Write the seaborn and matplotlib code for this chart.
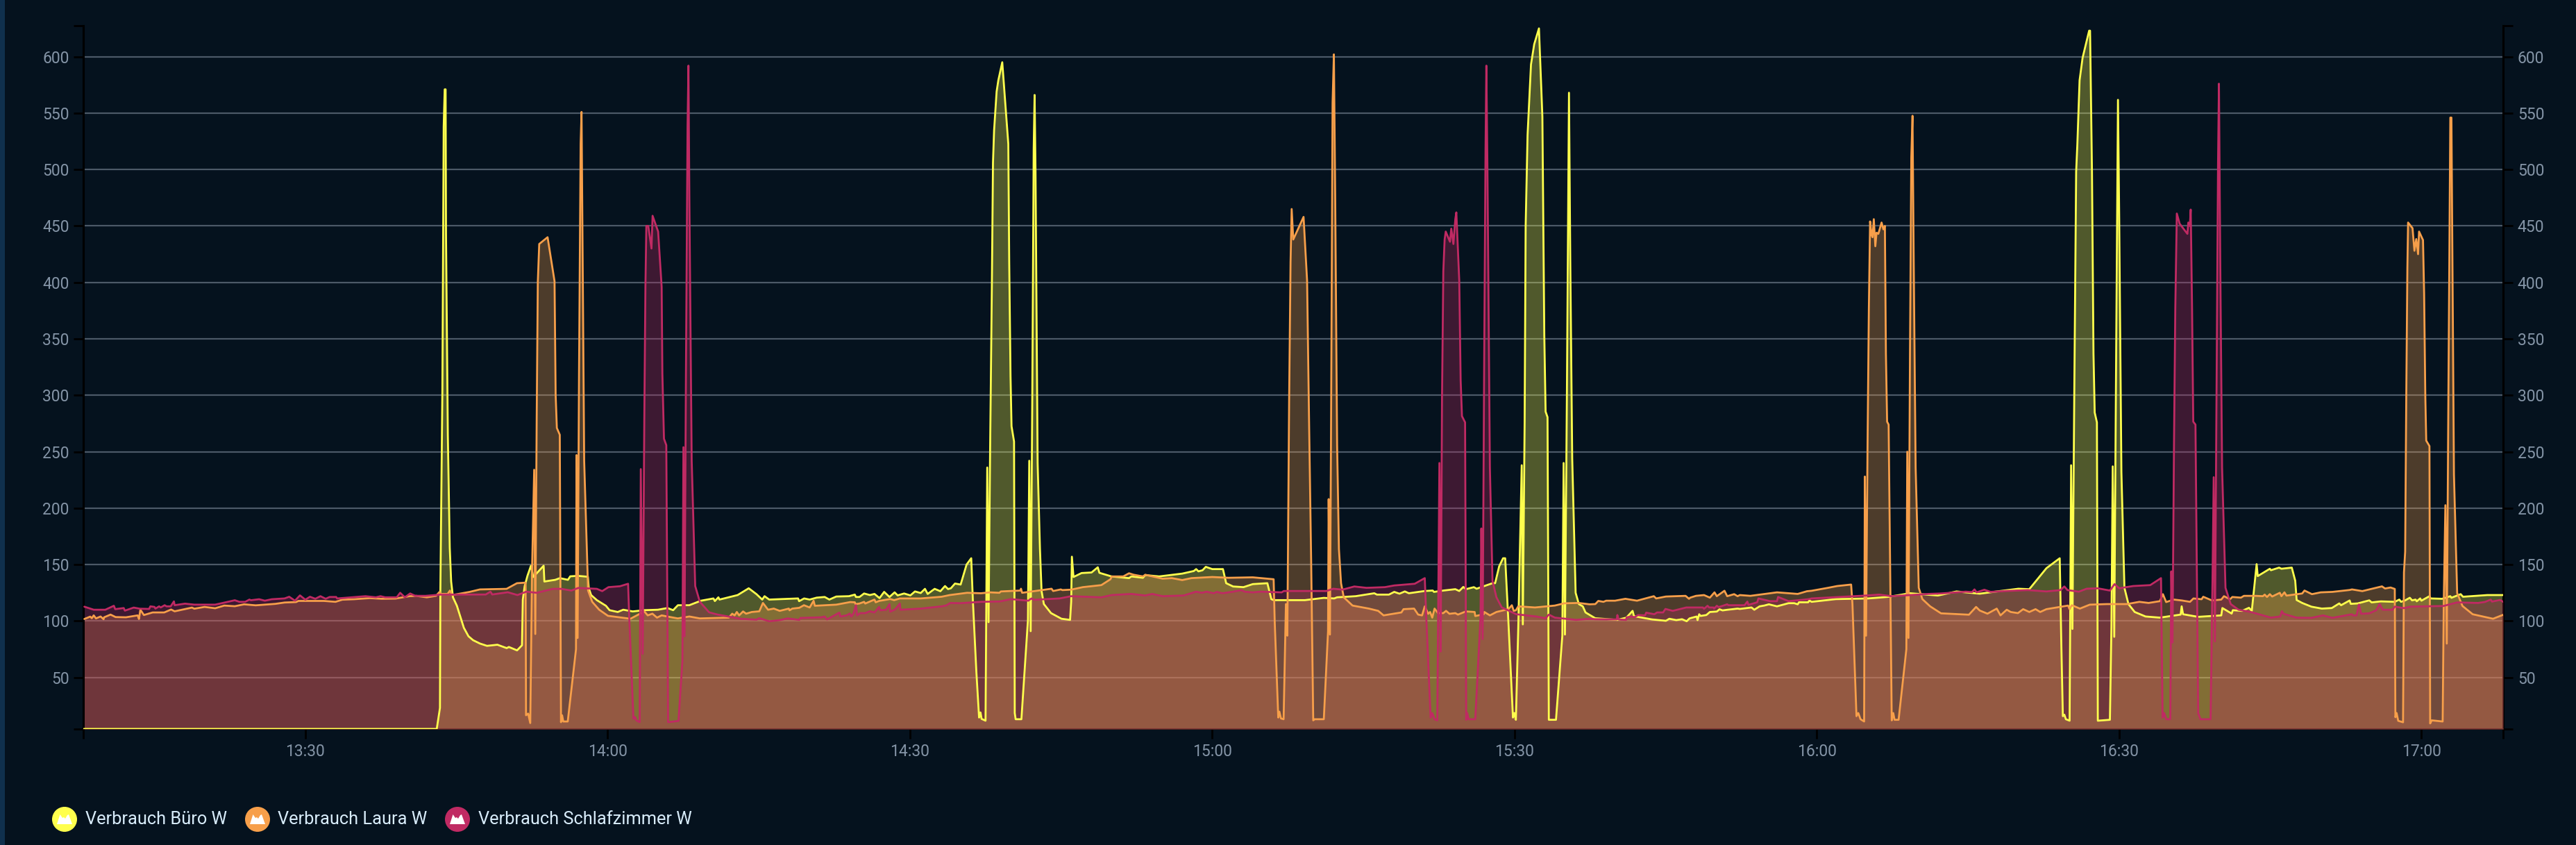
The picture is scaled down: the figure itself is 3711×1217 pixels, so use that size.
import matplotlib
matplotlib.use('Agg')
import matplotlib.pyplot as plt
from matplotlib.patches import Circle, Polygon, Rectangle
import pandas as pd
import seaborn as sns

# Zeit in Minuten nach 13:00, Leistung in Watt
buero_min = [8.0, 43.04, 43.36, 43.4, 43.6, 43.73, 43.83, 43.92, 43.96, 44.14, 44.33, 44.47, 44.65, 45.04, 45.38, 45.73, 46.19, 46.65, 47.34, 48.03, 49.06, 49.98, 50.2, 51.01, 51.5, 51.58, 51.77, 52.04, 52.39, 52.62, 53.65, 53.72, 54.8, 55.26, 56.06, 56.29, 57.07, 58.04, 58.13, 58.36, 58.93, 59.83, 60.19, 61.0, 61.55, 62.49, 63.62, 64.99, 65.94, 66.5, 66.97, 68.1, 69.26, 70.5, 70.64, 70.99, 71.1, 72.9, 74.0,
             74.77, 75.34, 75.57, 76.03, 78.9, 79.0, 79.5, 80.05, 80.74, 81.54, 82.0, 82.69, 83.95, 84.53, 84.64, 84.99, 85.45, 86.02, 86.48, 86.98, 87.44, 87.97, 88.48, 88.78, 89.42, 90.04, 90.5, 91.07, 91.49, 91.76, 92.45, 93.02, 93.48, 93.78, 94.06, 94.47, 95.03,
             95.62, 96.08, 96.24, 96.59, 96.86, 97.0, 97.11, 97.5, 97.67, 97.8, 97.96, 98.13, 98.24, 98.35, 98.6, 98.77, 99.16, 99.46, 99.76, 99.85, 99.98, 100.08, 100.33, 100.4, 100.49, 101.06, 101.71, 101.84, 101.98, 102.14, 102.28, 102.37, 102.46, 102.67, 102.9, 103.06, 103.29, 104.0, 105.04, 105.89, 106.0, 106.07, 106.23, 107.03, 108.02, 108.64, 108.8, 110.0, 111.74, 111.97, 113.12, 113.35, 114.73, 117.02, 118.17, 118.4, 118.63, 119.04, 119.36, 120.0, 121.06, 121.38, 122.07, 123.1, 124.02, 125.47, 125.86, 126.09,
             129.2, 131.07, 132.1, 132.39, 134.23, 136.08, 136.34, 137.53, 138.06, 138.58, 139.11, 139.51, 141.09, 141.88, 142.0, 142.93, 144.12, 144.51, 144.91, 145.17, 145.96, 146.23, 147.81, 148.07, 148.47, 148.86, 149.07, 149.39, 149.84, 149.97, 150.13, 150.37, 150.71, 150.82, 151.0, 151.1, 151.29, 151.63, 151.95, 152.42, 152.76, 152.95, 153.08, 153.27, 153.4, 154.11, 154.74, 154.87, 155.0, 155.19, 155.4, 155.53, 155.72, 156.06, 156.38, 156.77, 157.04,
             158.0, 160.2, 161.1, 161.71, 161.85, 163.64, 165.02, 165.36, 166.05, 166.62, 167.08, 167.36, 168.07, 168.16, 168.32, 168.46, 169.03, 169.38, 170.07, 170.34, 170.64, 171.15, 172.13, 172.36, 173.51, 173.79, 174.32, 174.78, 175.24, 176.04, 177.19, 177.76, 178.1, 178.22, 179.14, 179.25, 179.48,
             181.87, 185.09, 187.09, 189.24, 192.01, 193.86, 194.78, 196.16, 197.86, 200.0, 201.08, 202.78, 204.1, 204.25, 204.41, 204.56, 204.71, 205.08, 205.23, 205.36, 205.54, 205.73, 205.85, 206.07, 206.37, 207.02, 207.11, 207.3, 207.45, 207.57, 207.79, 207.88, 209.08, 209.23, 209.36, 209.51, 209.7, 209.88, 210.0, 210.22, 210.52, 210.92, 211.54, 212.62, 214.04, 216.1, 216.2, 216.34, 217.83, 220.13, 220.24, 221.16, 221.28, 222.2, 222.88, 223.16, 223.64, 223.75, 224.95, 225.06, 225.87, 226.1, 227.13, 227.47, 227.61, 228.16, 229.08, 230.11, 231.1, 231.84, 232.02, 232.87, 232.98,
             233.67, 234.82, 235.05, 235.97, 237.35, 237.8, 237.97, 238.38, 238.84, 239.07, 239.41, 239.53, 239.87, 239.99, 240.79, 240.9, 242.05, 242.86, 242.97, 243.89, 244.12, 246.53, 248.1]
buero_w = [4.4, 4.4, 23, 127, 304, 538, 571, 571, 442, 265, 165, 135, 121, 113.5, 104, 94, 86.5, 83, 80, 78, 79, 76, 77, 74, 78.5, 119, 131, 140, 149, 139, 149, 135, 136.5, 138, 136.5, 139.6, 140, 139.2, 129, 123, 118.5, 113.5, 109.6, 108, 110, 108.5, 109.6, 110, 111.5, 109.6, 114, 114, 118, 120, 117.7, 121, 119, 123, 129,
           123.8, 119, 122, 119, 120, 117.6, 120, 119, 120.7, 121.3, 119, 121.7, 122, 123.4, 121.3, 121.3, 124.4, 123, 124, 120.3, 125.8, 121.3, 125.4, 122.7, 124.4, 122.7, 126.2, 124.8, 128.5, 124, 128.5, 126.4, 131, 128.3, 129, 133.2, 132.3,
           150, 155.6, 119, 55, 14.5, 19, 13.3, 11.7, 236, 99, 256, 397.6, 506, 534.7, 569, 579, 595, 559, 522.6, 418, 317, 272.6, 259, 18.5, 13, 13, 101, 242, 91, 297, 518.5, 566, 498, 240, 164, 126.6, 115, 107, 102, 101, 117, 157, 139, 142.5, 143, 147.6, 142.7, 139.5, 138, 139.5, 138.3, 140.7, 139.5, 142, 144.3, 146, 144, 145, 148, 146, 146, 133.5, 130.6, 130, 132.7, 133.5, 119.4, 118.5,
           118.5, 120.5, 120, 121, 122, 124.6, 123.4, 123.4, 125.8, 124.2, 126.2, 124.6, 126.6, 127, 125.8, 127, 128.2, 126.6, 130.2, 128.2, 130, 128.6, 133.5, 133.5, 148.4, 155.6, 155.6, 99, 14.5, 18.5, 12.5, 95, 238, 97, 276.6, 450, 530.6, 593, 611, 625, 546.8, 353, 285.5, 280.6, 12.5, 12.5, 87, 240, 88, 297, 568, 417.6, 244, 125, 115, 113, 107.6,
           102.5, 101, 103, 109, 104.3, 101.4, 100.2, 102, 100.8, 101.6, 99.8, 102.3, 104, 100.8, 106, 104.5, 105.3, 108, 108.4, 110.4, 109.4, 110, 111, 110.7, 112, 110, 113, 113.7, 114.8, 113, 115.8, 115.8, 114.8, 116.6, 116.6, 118.2, 117,
           119.4, 120, 121.4, 124.6, 122.6, 126.2, 125.4, 124.2, 126.2, 128.6, 128.2, 146.8, 155.6, 83, 15.7, 17, 13, 11.7, 238, 93, 297, 498, 522.6, 579, 599, 623, 623, 498, 337, 284.7, 276, 11.7, 12.5, 95, 237, 86, 337, 561.7, 458, 232, 129.4, 115, 108, 104, 103, 105.7, 113, 106, 103.7, 105, 111.5, 106.6, 109.6, 109, 111.7, 109, 150.4, 139.8, 146.3, 145, 147.3, 146.3, 147.3, 135.7, 118.6, 116, 112.7, 111, 111.5, 115.6, 114, 118.2, 115.2,
           115.6, 118.3, 116.5, 117.4, 117, 119, 117, 118.3, 120.6, 118.3, 119, 117.5, 120, 118, 122, 120, 119.7, 122, 120.6, 123.8, 121.5, 123, 123]

laura_min = [8.07, 8.65, 8.81, 9.0, 9.22, 9.68, 9.98, 10.03, 10.67, 11.17, 12.2, 13.36, 13.49, 13.63, 13.98, 14.85, 16.0, 16.68, 17.03, 18.75, 18.98, 20.0, 21.05, 21.96, 23.0, 23.92, 25.07, 27.02, 27.94, 29.08, 29.31, 31.84, 32.99, 33.67, 34.82, 36.43, 37.58, 38.96, 39.87, 40.33, 41.02, 42.05, 42.97, 43.32, 43.43, 44.12, 44.35, 44.58, 46.3, 47.33, 49.97, 51.0, 51.86, 51.9, 52.11, 52.32, 52.5, 52.71, 52.82, 52.96, 53.07, 53.21, 54.04, 54.73, 54.84, 54.96, 55.25, 55.37, 55.48, 55.6, 56.04, 56.86, 56.91, 57.02, 57.16, 57.32, 57.41, 57.51, 57.67, 57.9, 58.06, 58.47, 59.16, 60.03, 62.26, 63.64, 63.98, 64.44, 64.9, 65.36, 65.93, 66.96, 68.11, 69.15, 72.02, 72.36, 72.6, 72.82, 73.05, 73.44, 73.74, 74.31, 75.05, 75.41, 75.92, 76.49, 77.07, 77.98, 78.05, 78.33, 79.02, 79.48, 80.05, 80.44, 80.56, 82.69, 84.07, 84.53, 84.6, 84.99, 85.45, 85.56, 86.48, 86.6, 86.94, 88.04, 88.43, 89.0, 91.07, 93.14, 93.94, 95.67, 97.05, 97.96, 98.88, 99.02, 100.95, 101.02, 101.13, 104.05, 104.21, 104.97, 105.13, 106.0, 107.15, 108.99, 109.9, 110.02, 111.17, 111.74, 112.2, 113.12, 113.35, 115.07, 115.99, 117.02, 117.94, 120.0, 121.61, 124.02, 126.09, 126.2, 126.55, 126.66, 126.82, 127.08, 127.31, 127.45, 127.63, 127.77, 127.88, 128.04, 129.06, 129.41, 129.62, 129.81, 130.02, 130.15, 131.07, 131.49, 131.55, 131.68, 131.78, 131.94, 132.07, 132.2, 132.39, 132.57, 132.78, 133.05, 133.92, 135.55, 136.47, 137.0, 138.77, 138.98, 140.03, 140.43, 140.82, 141.09, 141.43, 141.62, 141.83, 142.06, 142.4, 142.93, 143.2, 143.54, 144.12, 144.38, 145.17, 146.04, 146.1, 146.94, 147.0, 147.55, 148.2, 149.39, 149.73, 149.92, 150.13, 150.37, 152.03, 154.0, 154.93, 156.38, 157.44, 158.01, 158.31, 158.82, 159.09, 159.97, 161.0, 162.15, 163.82, 164.05, 165.02, 166.97, 167.31, 167.43, 168.0, 168.8, 169.38, 169.84, 170.07, 170.83, 171.1, 171.79, 172.13, 172.36, 173.4, 176.04, 178.1, 179.02, 179.48, 181.1, 182.02, 183.4, 183.53, 183.77, 183.93, 184.11, 184.33, 184.69, 184.76, 184.88, 185.03, 185.16, 185.28, 185.43, 185.52, 185.65, 185.8, 185.92, 186.1, 186.42, 186.6, 186.75, 186.85, 186.97, 187.12, 187.28, 187.43, 187.58, 187.71, 188.11, 188.88, 188.97, 189.09, 189.24, 189.37, 189.49, 189.61, 189.8, 190.11, 190.47, 191.24, 192.32, 195.09, 195.8, 196.16, 196.93, 197.85, 198.22, 198.84, 199.24, 199.95, 200.47, 201.08, 201.7, 202.16, 202.78, 204.93, 205.08, 205.3, 206.1, 207.08, 208.77, 210.77, 212.0, 212.92, 214.04, 214.34, 214.66, 215.42, 216.22, 217.03, 217.37, 218.18, 218.34, 219.21, 220.13, 220.4, 221.0, 221.23, 222.08, 222.38, 223.57, 224.26, 224.44, 224.67, 224.95, 225.18, 225.94, 226.1, 226.4, 226.6, 228.16, 228.39, 229.13, 230.0, 231.15, 232.87, 233.1, 234.13, 236.08, 236.38, 236.93, 237.35, 237.41, 237.53, 237.69, 238.17, 238.26, 238.38, 238.49, 238.6, 238.67, 239.11, 239.3, 239.48, 239.66, 239.76, 240.15, 240.26, 240.38, 240.47, 240.79, 240.86, 241.02, 242.1, 242.21, 242.37, 242.51, 242.67, 242.86, 242.97, 243.09, 243.22, 243.54, 244.07, 245.08, 247.1, 248.1]
laura_w = [101.8, 103.9, 102.5, 105, 102.3, 104, 101.6, 103.3, 105.7, 103.5, 103.3, 105, 101.8, 110, 105.3, 107.6, 107.6, 110.2, 108.6, 111.9, 110.9, 112.5, 111.3, 113.7, 113.1, 114.8, 113.9, 115.2, 116.4, 116.8, 117.8, 117.8, 117, 118.9, 119.3, 120.3, 119.7, 119.9, 121.3, 122, 122.3, 121, 122.3, 125.8, 124, 124, 127, 123, 125.8, 128, 128.5, 133.5, 134, 16.5, 18, 9.6, 146, 234, 88.5, 280, 400, 434, 440, 401, 300, 271, 265, 10.4, 16.5, 11, 11, 75, 247, 85, 319, 523, 551, 434.6, 242, 173, 127, 117, 110, 104.6, 102, 108.5, 105, 106.5, 103, 105, 104, 102.3, 104, 102.3, 103, 106.5, 105, 108, 105, 108.5, 106.5, 108, 108.6, 116, 110, 111, 109, 111, 109.5, 111, 111.7, 114, 112, 118, 113.5, 114.5, 116.8, 116.6, 115, 115.5, 117, 115.5, 119, 116.6, 117.8, 119.5, 118.5, 120, 120, 121.5, 123, 125, 124.6, 125.4, 125, 126.2, 127, 128.6, 125, 128.6, 126.6, 128, 127.4, 127.8, 130, 131.8, 137, 139.5, 139.5, 142.3, 141, 139.5, 141, 137.5, 138, 136.3, 138, 139, 138.3, 138.7, 137, 99, 14.5, 19.7, 13.7, 13, 115, 87, 297, 418, 465, 438, 458, 401.6, 268.5, 155.6, 12, 13, 13, 91, 208, 88, 256, 559, 602, 476, 256, 163.7, 133.5, 121, 113.7, 111, 109, 105, 107.6, 110.5, 111, 105.7, 105, 113, 106.4, 108, 103, 111, 107, 107, 109, 106.4, 107, 105.7, 108.5, 108, 104.4, 106, 108, 105, 108, 110.5, 114, 109, 109.5, 113, 112, 113.7, 115.7, 116, 114.8, 115, 117.8, 117, 118, 118, 119.7, 118, 122, 120, 121.7, 122.3, 119.7, 120.7, 122.3, 123, 120.7, 125.4, 122, 126.8, 122, 123.8, 122, 123, 122.3, 125.4, 124, 126.4, 126.8, 129.4, 131, 132.3, 115, 55, 15.7, 18.5, 13, 11, 228, 87, 256.5, 377.6, 454, 442, 440, 456, 432, 444, 443, 453, 447, 450, 337, 276.6, 274, 135.5, 12, 18.5, 12.5, 12.5, 75, 250, 85, 337, 510.5, 547.6, 418, 236, 129.4, 119.4, 113, 106.8, 105.6, 112.5, 109.3, 106.5, 111, 105, 110, 108, 107, 110.5, 108, 110.5, 108, 110.5, 113.7, 110.5, 114, 111, 114.5, 115, 115, 117, 116, 117.6, 123.8, 116.8, 119, 118.2, 117, 120, 119.3, 121.5, 118.2, 119, 122, 119.3, 121.3, 120.7, 122.3, 122.3, 122, 123.4, 121.3, 123.8, 121.7, 125, 122, 125.4, 122.5, 124.4, 127, 123.8, 125.4, 125.8, 127.5, 128, 126.5, 130.7, 128.8, 129.7, 128.4, 14.8, 18.5, 11.6, 10.3, 143, 161.4, 298.7, 413, 453, 448, 428, 438.4, 425, 445, 437.5, 390, 298.7, 259.8, 255, 9.3, 12, 11, 115.6, 202.6, 80, 298.7, 546, 546, 390, 230, 124.7, 113.3, 106, 102, 105.5]

schlaf_min = [8.07, 9.0, 10.15, 11.0, 11.13, 11.98, 12.09, 12.97, 13.58, 14.5, 14.62, 15.03, 15.12, 15.49, 15.65, 16.04, 16.22, 16.64, 16.96, 17.03, 18.06, 18.98, 21.05, 23.0, 23.46, 24.03, 24.45, 24.6, 25.41, 25.98, 26.67, 27.94, 28.4, 28.97, 29.47, 30.0, 30.46, 30.99, 31.5, 32.02, 32.41, 33.06, 33.15, 33.9, 35.97, 37.0, 37.46, 37.92, 39.07, 39.41, 39.87, 40.4, 40.9, 41.94, 43.44, 47.9, 48.37, 48.55, 50.09, 51.05, 51.93, 52.96, 54.57, 55.4, 56.4, 57.09, 58.93, 59.46, 60.08, 61.22, 62.03, 62.14, 62.56, 62.72, 62.85, 63.18, 63.29, 63.48, 63.64, 63.75, 63.84, 64.03, 64.35, 64.46, 65.01, 65.36, 65.43, 65.59, 65.82, 66.0, 67.03, 67.42, 67.52, 67.63, 67.77, 67.93, 68.02, 68.11, 68.34, 68.69, 69.15, 70.07, 70.87, 73.16, 74.77, 75.05, 76.03, 77.07, 77.87, 79.02, 79.13, 81.2, 81.54, 81.77, 82.99, 83.1, 83.72, 84.02, 84.18, 84.41, 84.64, 84.76, 85.06, 85.56, 86.02, 86.48, 86.94, 87.05, 87.63, 87.97, 88.04, 88.55, 89.0, 89.05, 91.07, 93.14, 93.6, 94.01, 94.98, 97.05, 98.88, 100.03, 101.75, 102.05, 102.33, 104.85, 106.0, 108.99, 110.02, 111.97, 113.35, 114.04, 115.07, 117.15, 118.4, 118.97, 119.44, 120.12, 120.46, 121.0, 122.07, 122.88, 123.22, 124.0, 124.8, 126.89, 127.1, 131.33, 132.0, 132.92, 134.1, 135.3, 137.13, 138.06, 140.09, 141.09, 141.22, 141.67, 141.83, 142.06, 142.33, 142.54, 142.67, 142.8, 142.93, 143.06, 143.17, 143.59, 143.72, 143.93, 144.12, 144.22, 144.51, 144.65, 144.78, 145.09, 145.2, 145.3, 145.44, 146.1, 146.62, 146.7, 146.83, 146.99, 147.12, 147.2, 147.31, 147.55, 147.81, 148.2, 148.73, 150.18, 152.16, 153.08, 153.4, 154.0, 156.11, 157.44, 158.0, 160.15, 160.2, 160.31, 161.07, 161.12, 161.53, 161.9, 162.26, 162.95, 163.06, 163.87, 164.14, 164.74, 164.97, 165.7, 167.04, 168.69, 168.8, 169.15, 169.31, 169.73, 169.8, 170.07, 170.25, 171.1, 171.22, 172.82, 173.1, 173.21, 174.08, 174.2, 175.35, 176.04, 176.15, 177.19, 179.14, 179.48, 184.94, 186.17, 187.4, 191.09, 192.32, 194.78, 195.4, 195.64, 195.85, 196.62, 197.24, 198.78, 200.93, 202.78, 204.16, 204.56, 204.87, 206.0, 206.77, 207.85, 209.08, 209.54, 210.0, 211.39, 213.08, 214.15, 214.31, 214.46, 214.68, 215.07, 215.17, 215.29, 215.44, 215.57, 215.72, 216.0, 216.77, 216.86, 217.01, 217.1, 217.23, 217.35, 217.57, 217.84, 218.06, 219.07, 219.26, 219.38, 219.5, 219.69, 219.81, 219.9, 220.03, 220.21, 220.55, 221.07, 221.84, 223.07, 225.06, 225.98, 226.14, 226.32, 227.59, 229.08, 230.23, 231.15, 233.1, 233.2, 233.56, 233.79, 234.02, 234.82, 235.51, 235.85, 236.15, 237.12, 237.35, 238.26, 238.95, 242.17, 243.54, 245.61, 246.3, 246.87, 247.0, 247.8, 248.1]
schlaf_w = [112.7, 110, 110, 113.5, 110.5, 111.5, 109.2, 111.9, 110.9, 110.7, 113, 112.5, 111, 113, 112, 114, 113, 113, 117.4, 114, 115.4, 114.5, 114.5, 118.4, 117, 117, 119, 118.4, 119.3, 118, 119.3, 120, 121.5, 118, 122.7, 118.9, 121.5, 119.7, 122, 119.7, 121.3, 121.3, 120, 120.5, 122, 121, 122, 121, 121, 125, 121, 124.4, 122.3, 122.3, 123.4, 123.5, 126, 123.5, 125.5, 123, 126, 125, 128.5, 128.5, 127, 129.3, 128.5, 126.5, 130, 130.8, 133, 104, 13.5, 15, 12, 10.4, 234.6, 71, 280, 396, 450, 450, 430, 459, 445, 396, 319, 261.5, 255.8, 10.4, 11.5, 65, 254, 86.5, 319, 538.5, 592, 473, 242, 131, 117, 107.7, 105.8, 102, 101.2, 102.5, 99.8, 100.8, 102.3, 101, 102.7, 103.3, 104, 101.4, 107.4, 104, 105, 106.6, 104, 107, 114, 105, 107, 107, 108.6, 107.6, 112.5, 109.5, 110, 115, 108.3, 110.4, 115.5, 110, 111, 113, 113.8, 116, 115.8, 117, 117.3, 119.4, 118, 120, 118.8, 120, 122, 121, 123, 124, 122.6, 124, 122, 122.6, 126, 125, 126, 124.6, 125.8, 124.6, 126, 127.4, 126, 125.4, 126, 125.4, 126.6, 126.6, 128.6, 127.8, 130.6, 129.4, 130, 131.5, 133, 138, 107, 14.5, 18.5, 13, 12, 240, 73, 297, 410, 438, 445, 436, 447.6, 434, 456, 462, 401.6, 313, 281.5, 276, 12.5, 18.5, 13, 13, 103, 182, 84, 337, 518.5, 592, 498, 236, 135.5, 121, 112, 106, 104, 102.4, 105.7, 103, 101, 102, 101.6, 101.4, 105.3, 101.4, 101, 103.2, 104, 103.4, 105.3, 105, 107.4, 106, 107.6, 107.6, 110.7, 109, 112, 112, 110.8, 113.5, 112, 112, 111, 113.5, 112.3, 114.8, 114, 114, 117.2, 114.3, 116.6, 120, 117.6, 117.6, 121.3, 117.6, 119.3, 120, 122.6, 123.4, 122, 124, 124.4, 126, 125.6, 128, 125.4, 127.7, 125.8, 126.6, 127.4, 126.2, 127.4, 130.6, 127.4, 126, 128.6, 129, 127, 132.7, 129, 131, 131.8, 138, 14.5, 18.5, 13, 13, 144, 81, 256.5, 377.6, 461, 452, 443, 453, 450, 464.5, 377.6, 276.6, 274, 18.5, 13, 13, 135.5, 227.4, 82, 337, 506, 576, 418, 236, 129.4, 115, 110, 108, 103, 104, 108.7, 106.4, 103, 102.8, 105, 102.8, 106, 105, 105, 114.6, 106.4, 106.8, 109.6, 115, 110, 110, 112.8, 111.4, 112.8, 113.3, 116.5, 116, 116.9, 119, 117.2, 118.7, 117]

y_ticks = [50, 100, 150, 200, 250, 300, 350, 400, 450, 500, 550, 600]
zeit_ticks = [30, 60, 90, 120, 150, 180, 210, 240]
zeit_labels = ['13:30', '14:00', '14:30', '15:00', '15:30', '16:00', '16:30', '17:00']

serien = [
    ('Verbrauch Büro W', buero_min, buero_w, '#ffff4d'),
    ('Verbrauch Laura W', laura_min, laura_w, '#f79f4a'),
    ('Verbrauch Schlafzimmer W', schlaf_min, schlaf_w, '#c02a63'),
]

BG = '#05121e'
B, H = 3711, 1217
x_lim = (8.0, 248.1)
y_lim = (4.3, 627.4)

sns.set_theme(style='dark')
plt.rcParams['font.family'] = ['Roboto', 'DejaVu Sans']

fig = plt.figure(figsize=(B / 100, H / 100), dpi=100, facecolor=BG)
ax = fig.add_axes([120.5 / B, 1 - 1050 / H, (3606 - 120.5) / B, (1050 - 37) / H], facecolor=BG)

# Gitter liegt unter den Flaechen
ax.set_axisbelow(True)
ax.grid(False)
for w in y_ticks:
    ax.axhline(w, color='#4c5967', linewidth=1.6, zorder=1)

for i, (name, t, w, farbe) in enumerate(serien):
    df = pd.DataFrame({'minuten': t, 'watt': w})
    ax.fill_between(df['minuten'], df['watt'], y_lim[0], color=farbe, alpha=0.3, linewidth=0, zorder=2 + i)

for i, (name, t, w, farbe) in enumerate(serien):
    df = pd.DataFrame({'minuten': t, 'watt': w})
    sns.lineplot(data=df, x='minuten', y='watt', estimator=None, sort=False, color=farbe,
                 linewidth=2.0, ax=ax, legend=False, zorder=6 + i)

ax.set_xlim(*x_lim)
ax.set_ylim(*y_lim)
ax.set_xlabel('')
ax.set_ylabel('')

ax.set_xticks(zeit_ticks)
ax.set_xticklabels(zeit_labels)
ax.set_yticks(y_ticks)
ax.set_yticks(list(y_lim), minor=True)
ax.set_xticks(list(x_lim), minor=True)
ax.tick_params(axis='y', which='both', left=True, right=True, labelleft=True, labelright=True,
               length=10, width=2, color='black', labelsize=16.5, labelcolor='#8494a6', pad=5)
ax.tick_params(axis='x', which='both', bottom=True, length=10, width=2, color='black',
               labelsize=16.5, labelcolor='#8494a6', pad=5)

for seite in ['left', 'right']:
    ax.spines[seite].set_visible(True)
    ax.spines[seite].set_color('black')
    ax.spines[seite].set_linewidth(2.2)
ax.spines['bottom'].set_visible(True)
ax.spines['bottom'].set_color('#1a1010')
ax.spines['bottom'].set_linewidth(1.5)
ax.spines['top'].set_visible(False)

# Legende und linker Rand in Pixelkoordinaten
over = fig.add_axes([0, 0, 1, 1], facecolor='none')
over.set_xlim(0, B)
over.set_ylim(H, 0)
over.axis('off')
over.add_patch(Rectangle((0, 0), 7, H, color='#10304d', linewidth=0))

berg = [(-11, 7), (-6.5, -7), (-3, -2), (-1, -3), (1, -1), (4, -6), (6, -7), (11, 7)]
legende_x = [93, 371, 659]
text_x = [123, 400, 689]
for (name, t, w, farbe), cx, tx in zip(serien, legende_x, text_x):
    over.add_patch(Circle((cx, 1180), 18, color=farbe, linewidth=0))
    over.add_patch(Polygon([(cx + a, 1180 + b) for a, b in berg], closed=True, color='white', linewidth=0))
    over.text(tx, 1180, name, color='#d8ecfa', fontsize=18.3, va='center', ha='left')

plt.savefig('out.png', dpi=100, facecolor=BG)
plt.close()
